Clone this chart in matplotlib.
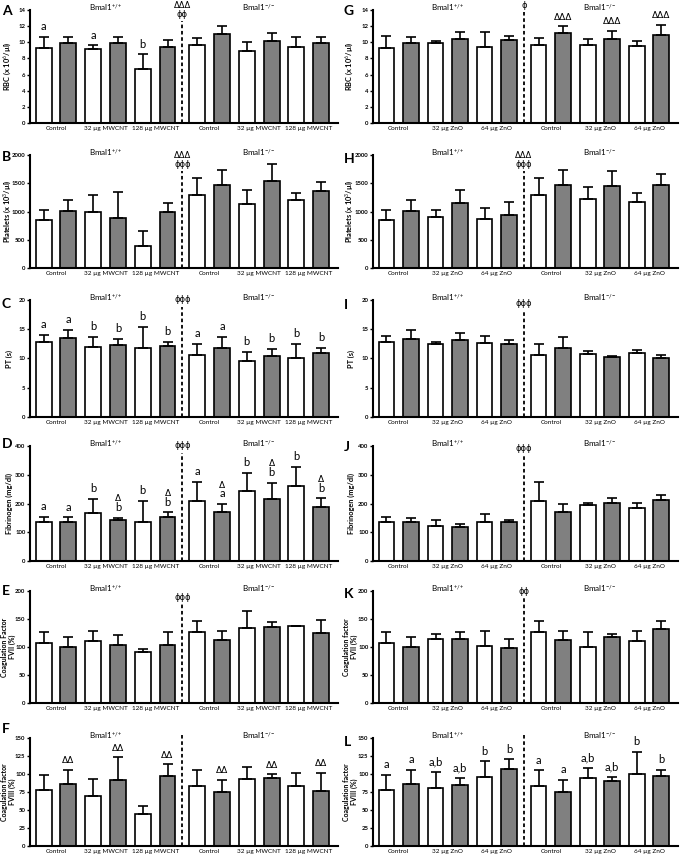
import numpy as np
import matplotlib
matplotlib.use('Agg')
import matplotlib.pyplot as plt

plt.rcParams['font.family'] = ['Lato', 'DejaVu Sans']
plt.rcParams['mathtext.fontset'] = 'custom'
plt.rcParams['mathtext.rm'] = 'Lato'
plt.rcParams['mathtext.it'] = 'Lato:italic'
plt.rcParams['mathtext.bf'] = 'Lato:bold'

# x labels
mwcnt_groups = ['Control', '32 µg MWCNT', '128 µg MWCNT'] * 2
zno_groups = ['Control', '32 µg ZnO', '64 µg ZnO'] * 2

# ---- MWCNT column (A-F): mean and SD, bars ordered white/gray per dose ----
rbc_mw_mean = [9.3, 9.9, 9.2, 9.85, 6.75, 9.45, 9.7, 11.05, 8.95, 10.2, 9.45, 9.95]
rbc_mw_sd = [1.4, 0.8, 0.45, 0.85, 1.75, 0.8, 0.85, 0.95, 1.05, 0.95, 1.25, 0.65]
plt_mw_mean = [850, 1010, 985, 880, 390, 990, 1290, 1465, 1130, 1540, 1200, 1365]
plt_mw_sd = [175, 190, 315, 460, 265, 155, 300, 270, 250, 300, 135, 160]
pt_mw_mean = [12.85, 13.5, 11.9, 12.25, 11.8, 12.15, 10.65, 11.8, 9.6, 10.35, 10.0, 10.9]
pt_mw_sd = [1.15, 1.45, 1.8, 1.15, 3.6, 0.7, 1.9, 1.9, 1.5, 1.25, 2.55, 0.9]
fib_mw_mean = [137, 137, 166, 143, 134, 152, 209, 169, 245, 216, 261, 189]
fib_mw_sd = [17, 15, 50, 8, 76, 17, 67, 29, 62, 56, 67, 29]
f7_mw_mean = [108, 100, 111, 103, 91, 104, 126, 112, 134, 135, 137, 125]
f7_mw_sd = [19, 18, 17, 18, 5, 22, 20, 16, 30, 10, 1, 23]
f8_mw_mean = [78, 86, 70, 91, 45, 97, 83, 75, 93, 95, 83, 76]
f8_mw_sd = [21, 20, 23, 32, 10, 17, 22, 17, 17, 5, 18, 26]

# ---- ZnO column (G-L) ----
rbc_zn_mean = [9.3, 9.95, 9.9, 10.35, 9.45, 10.25, 9.7, 11.1, 9.7, 10.45, 9.6, 10.95]
rbc_zn_sd = [1.45, 0.75, 0.3, 0.95, 1.85, 0.55, 0.85, 0.9, 0.75, 0.95, 0.6, 1.2]
plt_zn_mean = [850, 1010, 905, 1155, 875, 945, 1290, 1465, 1225, 1455, 1160, 1465]
plt_zn_sd = [175, 190, 130, 225, 190, 225, 300, 270, 200, 265, 170, 200]
pt_zn_mean = [12.8, 13.4, 12.4, 13.1, 12.6, 12.5, 10.6, 11.8, 10.8, 10.3, 10.9, 10.0]
pt_zn_sd = [1.1, 1.5, 0.5, 1.3, 1.2, 0.6, 1.8, 1.8, 0.4, 0.2, 0.6, 0.6]
fib_zn_mean = [136, 136, 123, 119, 134, 134, 208, 169, 194, 202, 185, 212]
fib_zn_sd = [16, 15, 19, 9, 31, 8, 68, 29, 8, 18, 17, 19]
f7_zn_mean = [108, 100, 115, 114, 102, 98, 126, 112, 100, 117, 110, 132]
f7_zn_sd = [19, 18, 9, 12, 26, 16, 20, 16, 27, 7, 18, 15]
f8_zn_mean = [78, 86, 81, 85, 96, 107, 83, 75, 94, 90, 100, 97]
f8_zn_sd = [21, 20, 22, 10, 22, 14, 22, 17, 14, 6, 31, 9]

# significance marks above bars (bottom to top)
rbc_mw_marks = [['a'], [], ['a'], [], ['b'], [], [], [], [], [], [], []]
ab = [['a'], ['a'], ['b'], ['b'], ['b'], ['b']] * 2
fib_marks = [['a'], ['a'], ['b'], ['b', 'Δ'], ['b'], ['b', 'Δ'],
             ['a'], ['a', 'Δ'], ['b'], ['b', 'Δ'], ['b'], ['b', 'Δ']]
f8_mw_marks = [[], ['ΔΔ']] * 6
rbc_zn_marks = [[], [], [], [], [], [], [], ['ΔΔΔ'], [], ['ΔΔΔ'], [], ['ΔΔΔ']]
f8_zn_marks = [['a'], ['a'], ['a,b'], ['a,b'], ['b'], ['b']] * 2

rbc_label = 'RBC (x 10$^6$/µl)'
plt_label = 'Platelets (x 10$^3$/µl)'

panels = [
    # letter, col, row, mean, sd, ymax, ystep, ylabel, marks, divider symbols, symbol top
    ('A', 0, 0, rbc_mw_mean, rbc_mw_sd, 14, 2, rbc_label, rbc_mw_marks, ['ΔΔΔ', 'ϕϕ'], 1.04),
    ('B', 0, 1, plt_mw_mean, plt_mw_sd, 2000, 500, plt_label, None, ['ΔΔΔ', 'ϕϕϕ'], 1.0),
    ('C', 0, 2, pt_mw_mean, pt_mw_sd, 20, 5, 'PT (s)', ab, ['ϕϕϕ'], 1.0),
    ('D', 0, 3, fib_mw_mean, fib_mw_sd, 400, 100, 'Fibrinogen (mg/dl)', fib_marks, ['ϕϕϕ'], 1.0),
    ('E', 0, 4, f7_mw_mean, f7_mw_sd, 200, 50, 'Coagulation Factor\nFVII (%)', None, ['ϕϕϕ'], 0.94),
    ('F', 0, 5, f8_mw_mean, f8_mw_sd, 150, 25, 'Coagulation factor\nFVIII (%)', f8_mw_marks, [], 1.0),
    ('G', 1, 0, rbc_zn_mean, rbc_zn_sd, 14, 2, rbc_label, rbc_zn_marks, ['ϕ'], 1.04),
    ('H', 1, 1, plt_zn_mean, plt_zn_sd, 2000, 500, plt_label, None, ['ΔΔΔ', 'ϕϕϕ'], 1.0),
    ('I', 1, 2, pt_zn_mean, pt_zn_sd, 20, 5, 'PT (s)', None, ['ϕϕϕ'], 0.97),
    ('J', 1, 3, fib_zn_mean, fib_zn_sd, 400, 100, 'Fibrinogen (mg/dl)', None, ['ϕϕϕ'], 0.98),
    ('K', 1, 4, f7_zn_mean, f7_zn_sd, 200, 50, 'Coagulation factor\nFVII (%)', None, ['ϕϕ'], 1.0),
    ('L', 1, 5, f8_zn_mean, f8_zn_sd, 150, 25, 'Coagulation factor\nFVIII (%)', f8_zn_marks, [], 1.0),
]

W, H = 685, 864
cols = [(30, 338), (373, 678)]
rows = [(10, 123), (155, 268), (300, 417), (446, 561), (591, 703), (738, 846)]
letter_y = [[11, 157, 304, 444, 591, 729], [11, 159, 305, 447, 594, 742]]
letter_x = [2, 344]
label_right = [13, 355]   # right edge (px) of rotated one-line y labels

fig = plt.figure(figsize=(W / 100, H / 100), dpi=100)

xpos = np.arange(12) + (np.arange(12) >= 6) * 0.2
colors = ['white', '#808080'] * 6
divider_x = (xpos[5] + xpos[6]) / 2
pair_x = (xpos[0::2] + xpos[1::2]) / 2

for letter, c, r, mean, sd, ymax, ystep, ylabel, marks, div_syms, sym_top in panels:
    x0, x1 = cols[c]
    top, bot = rows[r]
    ax = fig.add_axes([x0 / W, 1 - bot / H, (x1 - x0) / W, (bot - top) / H])
    mean = np.array(mean, dtype=float)
    sd = np.array(sd, dtype=float)

    ax.bar(xpos, mean, width=0.64, color=colors, edgecolor='black', linewidth=1.2, zorder=2)
    ax.errorbar(xpos, mean, yerr=[np.zeros(12), sd], fmt='none', ecolor='black',
                elinewidth=1.2, capsize=3.8, capthick=1.2, zorder=3)

    ax.set_xlim(-0.55, 11.88)
    ax.set_ylim(0, ymax)
    ax.set_yticks(np.arange(0, ymax + ystep / 2, ystep))
    ax.set_xticks(pair_x)
    ax.set_xticklabels(mwcnt_groups if c == 0 else zno_groups, fontsize=4.6)
    ax.tick_params(axis='x', length=0, pad=2.5)
    ax.tick_params(axis='y', length=2.5, width=1, pad=0.8, labelsize=4.3)
    for t in ax.get_yticklabels():
        t.set_fontweight('bold')
    for s in ['top', 'right']:
        ax.spines[s].set_visible(False)
    for s in ['left', 'bottom']:
        ax.spines[s].set_linewidth(1.5)
    two_line = '\n' in ylabel
    ax.set_ylabel(ylabel, fontsize=5.0 if two_line else 5.3, fontweight='bold',
                  linespacing=1.05)
    lx = label_right[c] + (3 if two_line else 0)
    ax.yaxis.set_label_coords((lx - x0) / (x1 - x0), 0.5)

    # group titles
    ax.text(2.5, 1.02, 'Bmal1$^{+/+}$', transform=ax.get_xaxis_transform(),
            ha='center', va='center', fontsize=5.8)
    ax.text(8.7, 1.02, 'Bmal1$^{-/-}$', transform=ax.get_xaxis_transform(),
            ha='center', va='center', fontsize=5.8)

    # divider with symbols
    yy = sym_top
    for s in div_syms:
        ax.text(divider_x, yy, s, transform=ax.get_xaxis_transform(),
                ha='center', va='center', fontsize=6, family=['DejaVu Sans'])
        yy -= 0.08
    dash_top = yy + 0.02 if div_syms else 1.03
    ax.plot([divider_x, divider_x], [0, dash_top], transform=ax.get_xaxis_transform(),
            color='black', lw=1.3, ls=(0, (2, 1.5)), clip_on=False, zorder=1)

    # marks above bars
    if marks is not None:
        for i, m in enumerate(marks):
            y = mean[i] + sd[i] + 0.04 * ymax
            for s in m:
                fs = 6.5 if 'Δ' in s else 8
                ax.text(xpos[i], y, s, ha='center', va='bottom', fontsize=fs,
                        family=['DejaVu Sans'] if 'Δ' in s else ['Lato', 'DejaVu Sans'])
                y += 0.085 * ymax

    fig.text(letter_x[c] / W, 1 - letter_y[c][r] / H, letter,
             fontsize=10, fontweight='bold', ha='left', va='center')

fig.savefig('out.png', dpi=100)
